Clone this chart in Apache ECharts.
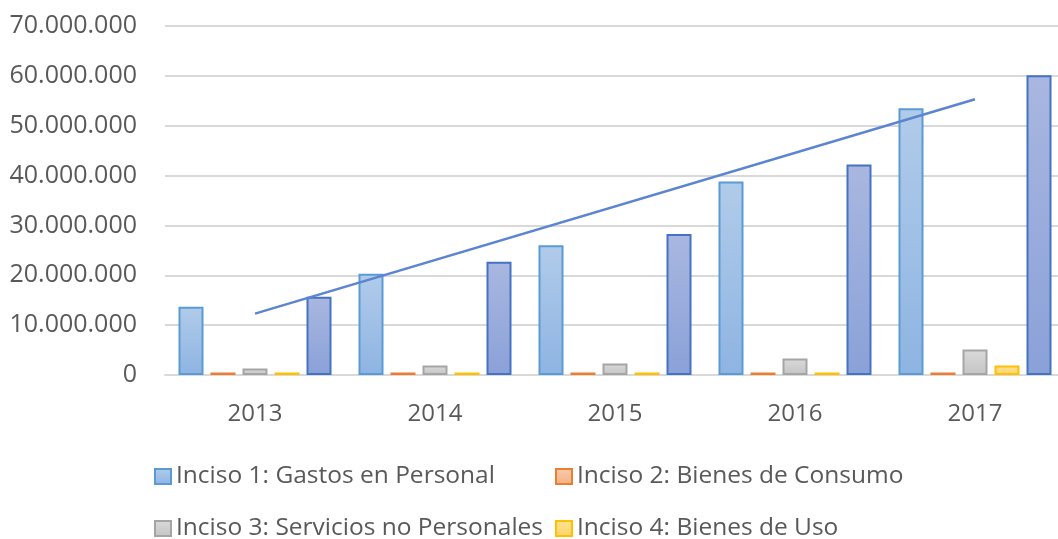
<!DOCTYPE html>
<html>
<head>
<meta charset="utf-8">
<script src="https://cdn.jsdelivr.net/npm/echarts@6/dist/echarts.min.js"></script>
<style>
  html, body { margin: 0; padding: 0; background: #fff; }
  #chart { width: 1058px; height: 539px; }
</style>
</head>
<body>
<div id="chart"></div>
<script>
const years = ['2013', '2014', '2015', '2016', '2017'];

const inciso1 = [13700000, 20300000, 26000000, 38800000, 53500000];
const inciso2 = [500000, 500000, 500000, 500000, 500000];
const inciso3 = [1300000, 1900000, 2300000, 3300000, 5100000];
const inciso4 = [500000, 500000, 500000, 500000, 1900000];
const total = [15700000, 22700000, 28300000, 42200000, 60100000];

// linear trend of total, ends
const trend = [12300000, null, null, null, 55300000];

const fontFamily = 'Open Sans';
const textColor = '#595959';

function fmt(v) {
  return String(v).replace(/\B(?=(\d{3})+(?!\d))/g, '.');
}

function grad(top, bottom) {
  return new echarts.graphic.LinearGradient(0, 0, 0, 1, [
    { offset: 0, color: top },
    { offset: 1, color: bottom }
  ]);
}

function bar(name, data, fill, border) {
  return {
    name: name,
    type: 'bar',
    data: data,
    barWidth: 25,
    barGap: '28%',
    itemStyle: { color: fill, borderColor: border, borderWidth: 2 }
  };
}

function legendAt(name, left, top) {
  return {
    data: [name],
    left: left,
    top: top,
    padding: 0,
    icon: 'rect',
    itemWidth: 16,
    itemHeight: 15,
    itemGap: 0,
    textStyle: { color: textColor, fontFamily: fontFamily, fontSize: 24.5 }
  };
}

var myChart = echarts.init(document.getElementById('chart'));

option = {
  animation: false,
  grid: { left: 165, top: 26, width: 900, height: 349, containLabel: false, outerBoundsMode: 'none' },
  legend: [
    legendAt('Inciso 1: Gastos en Personal', 154, 464),
    legendAt('Inciso 2: Bienes de Consumo', 555, 464),
    legendAt('Inciso 3: Servicios no Personales', 154, 516),
    legendAt('Inciso 4: Bienes de Uso', 555, 516)
  ],
  xAxis: {
    type: 'category',
    data: years,
    axisLine: { lineStyle: { color: '#D9D9D9', width: 2 } },
    axisTick: { show: false },
    axisLabel: { color: textColor, fontFamily: fontFamily, fontSize: 24, margin: 27 }
  },
  yAxis: {
    type: 'value',
    min: 0,
    max: 70000000,
    interval: 10000000,
    axisLine: { show: false },
    axisTick: { show: false },
    splitLine: { lineStyle: { color: '#D9D9D9', width: 2 } },
    axisLabel: { color: textColor, fontFamily: fontFamily, fontSize: 25, margin: 28, formatter: fmt }
  },
  series: [
    bar('Inciso 1: Gastos en Personal', inciso1, grad('#B1CBEA', '#8EB4E2'), '#5B9BD5'),
    bar('Inciso 2: Bienes de Consumo', inciso2, grad('#F8CBAD', '#F4B183'), '#ED7D31'),
    bar('Inciso 3: Servicios no Personales', inciso3, grad('#DADADA', '#C4C4C4'), '#A5A5A5'),
    bar('Inciso 4: Bienes de Uso', inciso4, grad('#FFE199', '#FFD466'), '#FFC000'),
    bar('Total', total, grad('#A9B7E0', '#8AA1D8'), '#4472C4'),
    {
      name: 'Tendencia',
      type: 'line',
      data: trend,
      connectNulls: true,
      symbol: 'none',
      z: 5,
      lineStyle: { color: '#5B84D1', width: 2.5 }
    }
  ]
};

myChart.setOption(option);
</script>
</body>
</html>
